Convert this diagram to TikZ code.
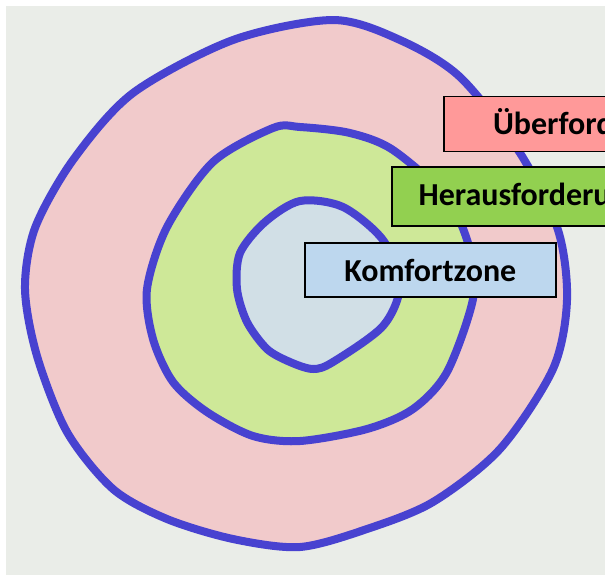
\documentclass[tikz,border=0pt]{standalone}
\usepackage{fontspec}
\setmainfont{Carlito}
\usetikzlibrary{positioning}

\definecolor{pen}{RGB}{72,66,208}
\definecolor{paper}{RGB}{234,237,232}
\definecolor{pinkzone}{RGB}{241,202,203}
\definecolor{greenzone}{RGB}{206,232,152}
\definecolor{comfzone}{RGB}{209,223,230}
\definecolor{lblred}{RGB}{255,153,153}
\definecolor{lblgreen}{RGB}{146,208,80}
\definecolor{lblblue}{RGB}{189,215,238}

\begin{document}
\begin{tikzpicture}[
  x=1pt, y=-1pt,
  ring/.style={draw=pen, line width=8pt, line join=round},
  lbl/.style={draw=black, line width=1.6pt, inner sep=0pt, anchor=west,
    font=\fontsize{32}{38}\selectfont\bfseries}
]
  \useasboundingbox (0,0) rectangle (605,579);
  \clip (0,0) rectangle (605,579);
  \fill[white] (0,0) rectangle (605,579);
  \fill[paper] (6,6) rectangle (605,575);

  % Ueberforderung (outer ring)
  \draw[ring, fill=pinkzone] plot[smooth cycle] coordinates {
    (333,20) (400,40) (460,77) (520,153) (558,230) (567,300)
    (553,369) (500,449) (433,502) (367,529) (300,547) (233,539)
    (167,519) (113,489) (67,432) (37,356) (25,289) (35,228)
    (73,160) (133,93) (233,40)};
  % Herausforderung (middle ring)
  \draw[ring, fill=greenzone] plot[smooth cycle] coordinates {
    (300,127) (350,133) (393,150) (447,198) (470,250) (473,299)
    (447,372) (413,409) (367,429) (300,441) (253,436) (207,412)
    (173,382) (153,339) (147,289) (167,227) (213,162) (273,128)};
  % Komfortzone (inner ring)
  \draw[ring, fill=comfzone] plot[smooth cycle] coordinates {
    (300,201) (343,207) (383,240) (400,285) (383,326) (333,362)
    (313,369) (290,362) (267,349) (247,322) (237,289) (240,253)
    (265,222)};

  \node[lbl, fill=lblred, minimum width=296pt, minimum height=55pt]
    (ueber) at (443,124) {Überforderung};
  \node[lbl, fill=lblgreen, minimum width=278pt, minimum height=59pt]
    (heraus) at (391,196.5) {Herausforderung};
  \node[lbl, fill=lblblue, minimum width=251pt, minimum height=54pt]
    (komfort) at (304,270) {Komfortzone};
\end{tikzpicture}
\end{document}
